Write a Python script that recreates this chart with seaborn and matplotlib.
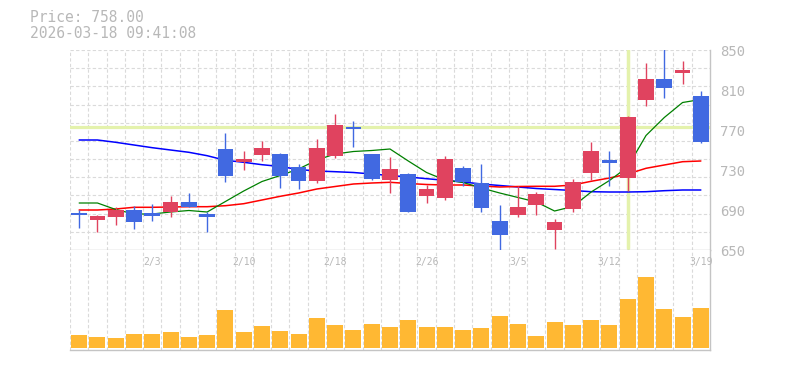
import numpy as np
import pandas as pd
import matplotlib
matplotlib.use("Agg")
import matplotlib.pyplot as plt
import matplotlib.transforms as mtransforms
import seaborn as sns

# %%
# trading days on the chart
dates = ['1/28', '1/29', '1/30', '2/2', '2/3', '2/4', '2/5', '2/6', '2/9', '2/10',
         '2/12', '2/13', '2/16', '2/17', '2/18', '2/19', '2/20', '2/24', '2/25', '2/26',
         '2/27', '3/2', '3/3', '3/4', '3/5', '3/6', '3/9', '3/10', '3/11', '3/12',
         '3/13', '3/16', '3/17', '3/18', '3/19']
opens = [687, 680, 683, 690, 687, 688, 698, 686, 751, 738,
         745, 746, 733, 719, 744, 773, 746, 720, 726, 704,
         702, 732, 717, 679, 685, 695, 670, 691, 727, 740,
         722, 800, 821, 827, 804]
highs = [690, 685, 693, 694, 696, 704, 707, 688, 767, 749,
         759, 747, 736, 761, 786, 779, 746, 743, 727, 715,
         744, 734, 736, 695, 714, 708, 681, 721, 758, 749,
         784, 837, 851, 839, 809]
lows = [672, 668, 675, 671, 679, 683, 693, 668, 718, 730,
        739, 712, 711, 717, 742, 753, 720, 707, 688, 697,
        700, 714, 688, 650, 683, 685, 651, 688, 720, 714,
        709, 794, 802, 816, 757]
closes = [685, 684, 690, 678, 684, 698, 693, 683, 724, 741,
          752, 724, 719, 752, 775, 771, 721, 731, 688, 711,
          741, 718, 692, 665, 693, 706, 678, 718, 749, 737,
          783, 821, 812, 830, 758]
volume = [13, 11, 10, 14, 14, 16, 11, 13, 38, 16,
          22, 17, 14, 30, 23, 18, 24, 21, 28, 21,
          21, 18, 20, 32, 24, 12, 26, 23, 28, 23,
          49, 71, 39, 31, 40]
# moving averages as drawn (short / mid / long)
ma_short = [697, 697, 690.5, 686, 686, 688, 689.5, 688, 698.5, 709,
            718.5, 724.5, 731, 740, 746, 748.5, 749.5, 751, 739, 727.5,
            720, 717.5, 712, 707, 702.5, 698, 689, 693.5, 708, 719.5,
            733, 764.5, 782.5, 797.5, 800.5]
ma_mid = [690, 690, 691, 692.7, 692.7, 693, 693.3, 693.3, 694.3, 696.3,
          700, 703.7, 707, 711, 713.5, 716, 717, 717.7, 716.5, 715.5,
          715, 715, 714, 713, 713.5, 713.7, 713.7, 715, 718.7, 722,
          726, 731.7, 735, 738.3, 739]
ma_long = [760, 760, 757.7, 755, 752.3, 750, 747.7, 744.3, 739.7, 737.7,
           735.3, 733.5, 730.5, 729, 728.3, 727.5, 726, 724.5, 723, 721.3,
           719.7, 718, 716, 714.5, 713, 711.5, 710.5, 709.5, 708.3, 708,
           708, 708.3, 709.3, 710, 710]

label_days = ['2/3', '2/10', '2/18', '2/26', '3/5', '3/12', '3/19']
price_ticks = [650, 690, 730, 770, 810, 850]
last_price = 758.00
stamp = '2026-03-18 09:41:08'
cursor_day = '3/13'
cursor_price = 773

df = pd.DataFrame({'date': dates, 'open': opens, 'high': highs, 'low': lows,
                   'close': closes, 'vol': volume,
                   'ma_s': ma_short, 'ma_m': ma_mid, 'ma_l': ma_long})
df['idx'] = np.arange(len(df))

# %%
sns.set_style('white')
plt.rcParams['font.family'] = ['DejaVu Sans Mono', 'DejaVu Sans']

up_col = '#e0435f'
down_col = '#4169e1'
grid_col = '#dadada'
spine_col = '#c4c4c4'
text_col = '#b8b8b8'

fig = plt.figure(figsize=(7.85, 3.7), dpi=100)
ax = fig.add_axes([70/785, 120/370, 640/785, 200/370])
axv = fig.add_axes([70/785, 20/370, 640/785, 100/370])

# volume
sns.barplot(x=df['idx'], y=df['vol'], ax=axv, color='#ffb833', saturation=1,
            width=0.875, errorbar=None, linewidth=0, zorder=2)

# grid
for a in (ax, axv):
    for k in range(len(df)):
        a.axvline(k - 0.5, color=grid_col, lw=0.8, ls=(0, (3, 2)), zorder=0)
for v in np.linspace(650, 850, 12)[1:]:
    ax.axhline(v, color=grid_col, lw=0.8, ls=(0, (3, 2)), zorder=0)

# cursor
ax.axhline(cursor_price, color='#e4f2ac', lw=2.3, zorder=1)
ax.axvline(dates.index(cursor_day), ymin=0.01, color='#e4f2ac', lw=2.5, zorder=1)

# moving averages
sns.lineplot(data=df, x='idx', y='ma_l', ax=ax, color='#0000ff', lw=1.1, zorder=2)
sns.lineplot(data=df, x='idx', y='ma_m', ax=ax, color='#ff0000', lw=1.1, zorder=2)
sns.lineplot(data=df, x='idx', y='ma_s', ax=ax, color='#008000', lw=0.9, zorder=2)

# candles
cols = np.where(df['close'] >= df['open'], up_col, down_col)
body = np.maximum((df['close'] - df['open']).abs(), 1.5)
ax.vlines(df['idx'], df['low'], df['high'], colors=cols, lw=1, zorder=3)
ax.bar(df['idx'], body, bottom=np.minimum(df['open'], df['close']), width=0.86,
       color=cols, linewidth=0, zorder=4)

# axes
for a in (ax, axv):
    a.set_xlim(-0.5, len(df) - 0.5)
    a.set_xlabel('')
    a.set_ylabel('')
    a.set_xticks([])
    a.grid(False)
    a.spines['top'].set_visible(False)
    a.spines['left'].set_visible(False)
    for s in ('right', 'bottom'):
        a.spines[s].set_color(spine_col)
        a.spines[s].set_linewidth(1)
ax.set_ylim(650, 850)
ax.yaxis.tick_right()
ax.set_yticks(price_ticks)
ax.tick_params(axis='y', length=0, pad=7, labelsize=10, labelcolor=text_col)
axv.set_ylim(-2, 98)
axv.set_yticks([])

trans = mtransforms.blended_transform_factory(axv.transData, axv.transAxes)
for d in label_days:
    axv.text(dates.index(d), 0.88, d, ha='center', va='center', transform=trans,
             fontsize=7, color=text_col)

fig.text(30/785, 1 - 18/370, f'Price: {last_price:.2f}', fontsize=10.5, color=text_col, va='center')
fig.text(30/785, 1 - 33/370, stamp, fontsize=10.5, color=text_col, va='center')

fig.savefig('out.png', dpi=100)
